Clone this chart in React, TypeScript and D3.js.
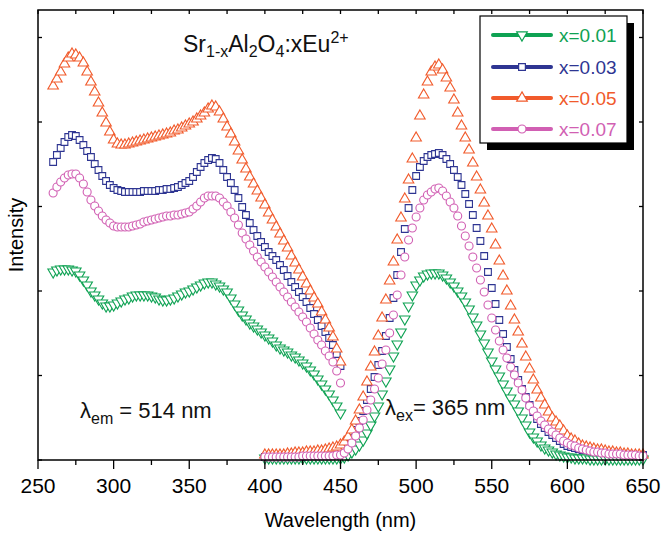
import React, { useRef, useEffect } from "react";
import * as d3 from "d3";

// wavelength grids (nm), 2.5 nm steps
const excWavelengths = d3.range(260, 450.1, 2.5);
const emWavelengths = d3.range(400, 650.1, 2.5);

const xTicks = [250, 300, 350, 400, 450, 500, 550, 600, 650];
const xMinorTicks = [275, 325, 375, 425, 475, 525, 575, 625];
const yTicks = [0, 84.5, 169, 253.5, 338, 422.5];

const seriesNames = ["x=0.01", "x=0.03", "x=0.05", "x=0.07"];
const seriesColors = ["#0ea253", "#2e3592", "#f15a2b", "#d15fb3"];
const seriesSymbols = ["triangleDown", "square", "triangleUp", "circle"];

// excitation spectra (lambda_em = 514 nm), arbitrary units, 260-450 nm
const exc001 = [
  188, 190, 191, 191, 191, 190, 189, 185, 180, 175,
  169, 165, 161, 157, 154, 154, 155, 157, 159, 161,
  162, 164, 165, 165, 165, 165, 164, 163, 161, 160,
  160, 161, 162, 164, 166, 168, 169, 171, 173, 175,
  177, 178, 178, 176, 174, 171, 168, 162, 156, 150,
  145, 141, 137, 134, 131, 128, 125, 122, 119, 115,
  112, 110, 108, 105, 103, 100, 97, 94, 90, 86,
  81, 76, 71, 66, 60, 54, 47,
];
const exc003 = [
  298, 305, 312, 318, 323, 325, 324, 320, 315, 309,
  303, 296, 290, 284, 279, 275, 272, 270, 269, 268,
  268, 268, 268, 268, 269, 269, 269, 269, 270, 270,
  271, 271, 272, 273, 275, 277, 279, 283, 288, 293,
  297, 300, 302, 301, 297, 290, 283, 277, 270, 262,
  253, 245, 237, 230, 224, 218, 213, 208, 204, 200,
  195, 190, 184, 178, 173, 168, 163, 158, 152, 146,
  140, 134, 128, 122, 115, 106, 94,
];
const exc005 = [
  374, 381, 388, 396, 402, 406, 405, 402, 397, 388,
  378, 368, 357, 347, 337, 328, 320, 316, 315, 315,
  316, 317, 318, 319, 320, 321, 322, 323, 324, 325,
  326, 327, 329, 330, 332, 334, 336, 338, 341, 344,
  347, 351, 354, 353, 348, 341, 333, 326, 318, 309,
  300, 291, 283, 276, 269, 262, 255, 247, 240, 233,
  226, 219, 212, 204, 197, 190, 183, 176, 169, 162,
  156, 148, 140, 132, 123, 111, 98,
];
const exc007 = [
  267, 273, 278, 282, 285, 286, 286, 282, 276, 268,
  260, 254, 249, 244, 240, 237, 234, 233, 233, 233,
  233, 234, 235, 236, 238, 239, 240, 241, 242, 243,
  244, 244, 245, 245, 246, 247, 248, 251, 254, 258,
  262, 264, 264, 264, 262, 258, 254, 248, 242, 235,
  227, 221, 215, 209, 203, 198, 193, 188, 183, 178,
  173, 168, 163, 158, 153, 148, 143, 138, 132, 126,
  120, 115, 109, 104, 98, 89, 77,
];

// emission spectra (lambda_ex = 365 nm), 400-650 nm
const em001 = [
  2, 2, 2, 2, 2, 2, 2, 2, 2, 2,
  2, 2, 2, 2, 2, 2, 2, 2, 2, 2,
  2, 3, 5, 8, 11, 15, 20, 27, 35, 44,
  54, 66, 79, 91, 104, 116, 128, 141, 154, 165,
  175, 180, 184, 186, 187, 187, 187, 185, 182, 178,
  174, 169, 164, 158, 151, 143, 135, 126, 117, 108,
  99, 91, 84, 76, 69, 62, 56, 49, 42, 35,
  28, 23, 19, 15, 12, 10, 8, 6, 5, 4,
  3, 3, 2, 2, 2, 2, 1, 1, 1, 1,
  1, 1, 1, 1, 1, 1, 1, 1, 1, 1,
  1,
];
const em003 = [
  3, 3, 3, 3, 3, 3, 3, 3, 3, 3,
  3, 4, 4, 4, 4, 5, 5, 5, 6, 7,
  8, 11, 16, 22, 30, 39, 49, 60, 71, 83,
  95, 109, 124, 142, 162, 185, 208, 231, 252, 270,
  284, 293, 299, 303, 305, 306, 307, 305, 301, 296,
  290, 283, 275, 266, 256, 245, 232, 219, 204, 188,
  172, 156, 140, 126, 113, 101, 90, 80, 71, 63,
  55, 48, 41, 36, 32, 28, 25, 22, 19, 16,
  14, 13, 12, 11, 10, 10, 9, 9, 8, 8,
  7, 7, 6, 6, 6, 6, 5, 5, 5, 5,
  5,
];
const em005 = [
  5, 5, 5, 5, 5, 5, 6, 6, 7, 7,
  7, 8, 8, 8, 9, 9, 10, 11, 12, 13,
  15, 18, 23, 30, 39, 50, 63, 78, 93, 108,
  124, 142, 160, 179, 198, 220, 242, 261, 280, 301,
  322, 344, 365, 378, 388, 393, 395, 390, 382, 372,
  360, 347, 334, 322, 310, 297, 283, 270, 257, 244,
  231, 215, 199, 184, 169, 154, 140, 128, 116, 103,
  91, 80, 70, 62, 55, 48, 42, 38, 34, 29,
  24, 21, 19, 16, 14, 13, 12, 11, 10, 10,
  9, 8, 8, 7, 7, 6, 6, 5, 5, 5,
  5,
];
const em007 = [
  3, 3, 3, 3, 3, 3, 3, 3, 3, 3,
  4, 4, 4, 4, 4, 4, 4, 4, 4, 5,
  5, 7, 11, 17, 24, 32, 40, 50, 60, 71,
  82, 96, 110, 127, 145, 165, 185, 203, 220, 232,
  243, 252, 260, 265, 268, 271, 272, 269, 264, 258,
  252, 244, 234, 224, 214, 203, 192, 180, 168, 155,
  142, 130, 119, 110, 102, 93, 85, 77, 70, 62,
  54, 49, 44, 39, 35, 31, 28, 25, 22, 19,
  17, 15, 14, 12, 11, 10, 9, 8, 8, 7,
  7, 6, 6, 6, 6, 5, 5, 5, 5, 4,
  4,
];

const excitation = [exc001, exc003, exc005, exc007];
const emission = [em001, em003, em005, em007];

const FONT = "'Liberation Sans', Arial, sans-serif";

const symbolPath = (kind, size) => {
  if (kind === "square") return d3.symbol(d3.symbolSquare, size * 0.95)();
  if (kind === "circle") return d3.symbol(d3.symbolCircle, size * 1.05)();
  return d3.symbol(d3.symbolTriangle, size)();
};

const Chart = () => {
  const svgRef = useRef(null);

  useEffect(() => {
    const width = 662;
    const height = 536;
    const margin = { top: 10, right: 19, bottom: 76, left: 38 };

    const svg = d3.select(svgRef.current);
    svg.selectAll("*").remove();
    svg.attr("width", width).attr("height", height);

    const x = d3.scaleLinear().domain([250, 650]).range([margin.left, width - margin.right]);
    const y = d3.scaleLinear().domain([0, 450]).range([height - margin.bottom, margin.top]);

    const plot = svg.append("g");

    // open markers, one per data point
    const drawSeries = (wl, values, i) => {
      const kind = seriesSymbols[i];
      const path = symbolPath(kind, 48);
      plot
        .append("g")
        .selectAll("path")
        .data(values)
        .enter()
        .append("path")
        .attr("d", path)
        .attr("transform", (d, j) => {
          const rot = kind === "triangleDown" ? " rotate(180)" : "";
          return `translate(${x(wl[j])},${y(d)})${rot}`;
        })
        .attr("fill", "white")
        .attr("stroke", seriesColors[i])
        .attr("stroke-width", 1.1);
    };

    [0, 1, 2, 3].forEach((i) => {
      drawSeries(excWavelengths, excitation[i], i);
      drawSeries(emWavelengths, emission[i], i);
    });

    // frame
    const x0 = x.range()[0];
    const x1 = x.range()[1];
    const y0 = y.range()[0];
    const y1 = y.range()[1];
    svg
      .append("rect")
      .attr("x", x0)
      .attr("y", y1)
      .attr("width", x1 - x0)
      .attr("height", y0 - y1)
      .attr("fill", "none")
      .attr("stroke", "black")
      .attr("stroke-width", 1.5);

    const ticks = svg.append("g").attr("stroke", "black").attr("stroke-width", 1.3);
    xTicks.forEach((t) => {
      ticks.append("line").attr("x1", x(t)).attr("x2", x(t)).attr("y1", y0).attr("y2", y0 + 9);
      ticks.append("line").attr("x1", x(t)).attr("x2", x(t)).attr("y1", y1).attr("y2", y1 + 4);
    });
    xMinorTicks.forEach((t) => {
      ticks.append("line").attr("x1", x(t)).attr("x2", x(t)).attr("y1", y0).attr("y2", y0 + 5);
      ticks.append("line").attr("x1", x(t)).attr("x2", x(t)).attr("y1", y1).attr("y2", y1 + 4);
    });
    yTicks.forEach((t) => {
      ticks.append("line").attr("x1", x0).attr("x2", x0 + 4).attr("y1", y(t)).attr("y2", y(t));
      ticks.append("line").attr("x1", x1).attr("x2", x1 - 4).attr("y1", y(t)).attr("y2", y(t));
    });

    svg
      .append("g")
      .selectAll("text")
      .data(xTicks)
      .enter()
      .append("text")
      .attr("x", (d) => x(d))
      .attr("y", 493)
      .attr("text-anchor", "middle")
      .attr("font-family", FONT)
      .attr("font-size", 21)
      .text((d) => d);

    svg
      .append("text")
      .attr("x", (x0 + x1) / 2)
      .attr("y", 527)
      .attr("text-anchor", "middle")
      .attr("font-family", FONT)
      .attr("font-size", 20)
      .text("Wavelength (nm)");

    svg
      .append("text")
      .attr("transform", `translate(23,${(y0 + y1) / 2}) rotate(-90)`)
      .attr("text-anchor", "middle")
      .attr("font-family", FONT)
      .attr("font-size", 20)
      .text("Intensity");

    // title with sub/superscripts
    const title = svg
      .append("text")
      .attr("x", 183)
      .attr("y", 52)
      .attr("font-family", FONT)
      .attr("font-size", 23)
      .attr("fill", "#111");
    title.append("tspan").text("Sr");
    title.append("tspan").attr("font-size", 16).attr("dy", 5).text("1-x");
    title.append("tspan").attr("dy", -5).text("Al");
    title.append("tspan").attr("font-size", 16).attr("dy", 5).text("2");
    title.append("tspan").attr("dy", -5).text("O");
    title.append("tspan").attr("font-size", 16).attr("dy", 5).text("4");
    title.append("tspan").attr("dy", -5).text(":xEu");
    title.append("tspan").attr("font-size", 16).attr("dy", -9).text("2+");

    const lambdaLabel = (lx, ly, sub, rest) => {
      const t = svg
        .append("text")
        .attr("x", lx)
        .attr("y", ly)
        .attr("font-family", FONT)
        .attr("font-size", 22)
        .attr("fill", "#111");
      t.append("tspan").text("λ");
      t.append("tspan").attr("font-size", 16).attr("dy", 6).text(sub);
      t.append("tspan").attr("dy", -6).text(rest);
    };
    lambdaLabel(80, 418, "em", " = 514 nm");
    lambdaLabel(385, 415, "ex", "= 365 nm");

    // legend with drop shadow
    const legend = svg.append("g");
    legend.append("rect").attr("x", 487).attr("y", 23).attr("width", 147).attr("height", 127).attr("fill", "black");
    legend
      .append("rect")
      .attr("x", 480)
      .attr("y", 16)
      .attr("width", 147)
      .attr("height", 127)
      .attr("fill", "white")
      .attr("stroke", "black")
      .attr("stroke-width", 1.2);
    const rowsY = [35, 67, 98, 129];
    seriesNames.forEach((name, i) => {
      const ry = rowsY[i];
      legend
        .append("line")
        .attr("x1", 493)
        .attr("x2", 551)
        .attr("y1", ry)
        .attr("y2", ry)
        .attr("stroke", seriesColors[i])
        .attr("stroke-width", 4)
        .attr("stroke-linecap", "round");
      const kind = seriesSymbols[i];
      legend
        .append("path")
        .attr("d", symbolPath(kind, 48))
        .attr("transform", `translate(522,${ry})${kind === "triangleDown" ? " rotate(180)" : ""}`)
        .attr("fill", "white")
        .attr("stroke", seriesColors[i])
        .attr("stroke-width", 1.2);
      legend
        .append("text")
        .attr("x", 559)
        .attr("y", ry + 7)
        .attr("font-family", FONT)
        .attr("font-size", 19)
        .attr("fill", seriesColors[i])
        .text(name);
    });
  }, []);

  return <svg ref={svgRef} style={{ position: "absolute", left: 0, top: 0 }}></svg>;
};

export default function App() {
  return <Chart />;
}
